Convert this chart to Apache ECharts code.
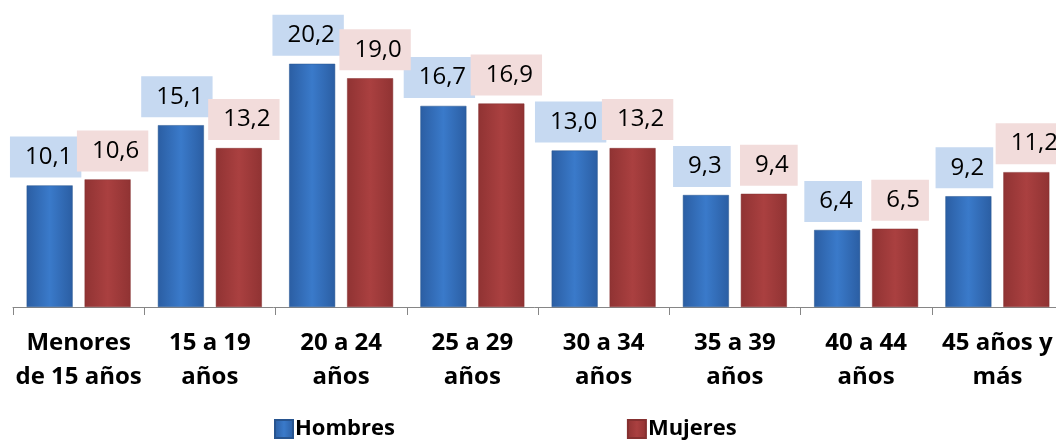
<!DOCTYPE html>
<html>
<head>
<meta charset="utf-8">
<script src="https://cdn.jsdelivr.net/npm/echarts@6/dist/echarts.min.js"></script>
<style>
  html, body { margin: 0; padding: 0; background: #fff; }
  #main { width: 1056px; height: 440px; }
</style>
</head>
<body>
<div id="main"></div>
<script>
  // grupos de edad
  var categorias = ['Menores\nde 15 años', '15 a 19\naños', '20 a 24\naños', '25 a 29\naños',
    '30 a 34\naños', '35 a 39\naños', '40 a 44\naños', '45 años y\nmás'];
  var hombres = [10.1, 15.1, 20.2, 16.7, 13.0, 9.3, 6.4, 9.2];
  var mujeres = [10.6, 13.2, 19.0, 16.9, 13.2, 9.4, 6.5, 11.2];

  var fuente = '"Open Sans", "Liberation Sans", sans-serif';

  function gradiente(borde, centro) {
    return new echarts.graphic.LinearGradient(0, 0, 1, 0, [
      { offset: 0, color: borde },
      { offset: 0.5, color: centro },
      { offset: 1, color: borde }
    ]);
  }

  function etiqueta(fondo, desplazamiento) {
    return {
      show: true,
      position: 'top',
      distance: 8,
      offset: [desplazamiento, 0],
      formatter: function (p) { return p.value.toFixed(1).replace('.', ','); },
      fontFamily: fuente,
      fontSize: 24,
      lineHeight: 25,
      color: '#000',
      backgroundColor: fondo,
      padding: [8, 9, 8, 15]
    };
  }

  var myChart = echarts.init(document.getElementById('main'));
  var option = {
    animation: false,
    grid: { left: 13, right: -7, top: 6, bottom: 133, outerBoundsMode: 'none', containLabel: false },
    legend: {
      left: 269,
      top: 413,
      itemWidth: 18,
      itemHeight: 18,
      itemGap: 232,
      icon: 'rect',
      textStyle: { fontFamily: fuente, fontSize: 22, fontWeight: 'bold', color: '#000', padding: [0, 0, 0, -3] },
      data: ['Hombres', 'Mujeres']
    },
    xAxis: {
      type: 'category',
      data: categorias,
      axisLine: { lineStyle: { color: '#868686', width: 1 } },
      axisTick: { show: true, length: 8, lineStyle: { color: '#868686' } },
      axisLabel: {
        interval: 0,
        margin: 19,
        fontFamily: fuente,
        fontSize: 24,
        fontWeight: 'bold',
        color: '#000',
        lineHeight: 34
      }
    },
    yAxis: {
      type: 'value',
      min: 0,
      max: 25,
      show: false
    },
    series: [
      {
        name: 'Hombres',
        type: 'bar',
        data: hombres,
        barWidth: 46,
        barGap: '26%',
        itemStyle: { color: gradiente('#2b5ea3', '#3a7aca'), borderColor: '#27548f', borderWidth: 0.5 },
        label: etiqueta('#c6d9f1', -4)
      },
      {
        name: 'Mujeres',
        type: 'bar',
        data: mujeres,
        barWidth: 46,
        itemStyle: { color: gradiente('#903333', '#aa4040'), borderColor: '#853030', borderWidth: 0.5 },
        label: etiqueta('#f2dcdb', 5)
      }
    ]
  };
  myChart.setOption(option);
</script>
</body>
</html>
